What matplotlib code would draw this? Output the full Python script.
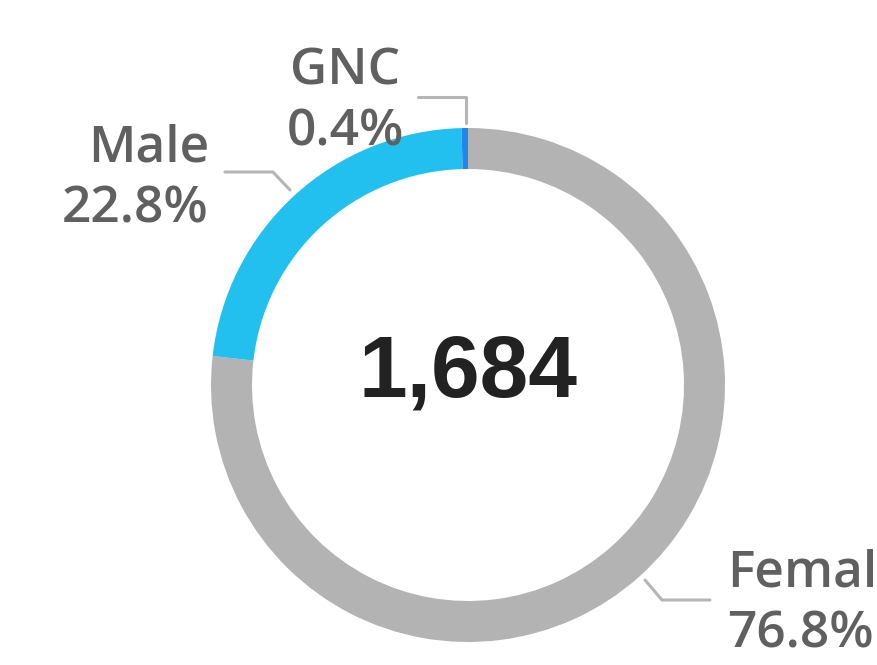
import matplotlib
matplotlib.use("Agg")
import matplotlib.pyplot as plt

labels = ["Femal", "Male", "GNC"]
shares = [76.8, 22.8, 0.4]
colors = ["#b3b3b3", "#22c0ee", "#1e88f0"]
total = "1,684"

W, H = 878, 665
fig = plt.figure(figsize=(W / 100, H / 100), dpi=100)
ax = fig.add_axes([0, 0, 1, 1])

# y axis inverted below, so counterclock=True draws clockwise on screen
cx, cy, r = 468, 385, 257
ax.pie(shares, colors=colors, startangle=-90, counterclock=True,
       center=(cx, cy), radius=r,
       wedgeprops=dict(width=41, linewidth=0), frame=True)
ax.set_xlim(0, W)
ax.set_ylim(H, 0)
ax.set_aspect("equal")
ax.axis("off")

ax.text(cx, 374, total, ha="center", va="center", fontsize=63,
        fontweight="heavy", color="#222222", family="Liberation Sans")

txt = dict(fontsize=37, color="#606060", family="Open Sans",
           fontweight="semibold", linespacing=1.3)
line = dict(color="#b5b5b5", lw=2.2, solid_capstyle="round")

# leader lines
ax.plot([466, 466, 418], [123, 97, 97], **line)
ax.plot([290, 273, 225], [190, 172, 172], **line)
ax.plot([645, 662, 710], [580, 600, 600], **line)

ax.text(345, 102, labels[2] + "\n" + f"{shares[2]}%", ha="center", va="center", **txt)
ax.text(209, 179, labels[1] + "\n" + f"{shares[1]}%", ha="right", va="center", **txt)
ax.text(727, 604, labels[0] + "\n" + f"{shares[0]}%", ha="left", va="center", **txt)

fig.savefig("out.png", dpi=100)
